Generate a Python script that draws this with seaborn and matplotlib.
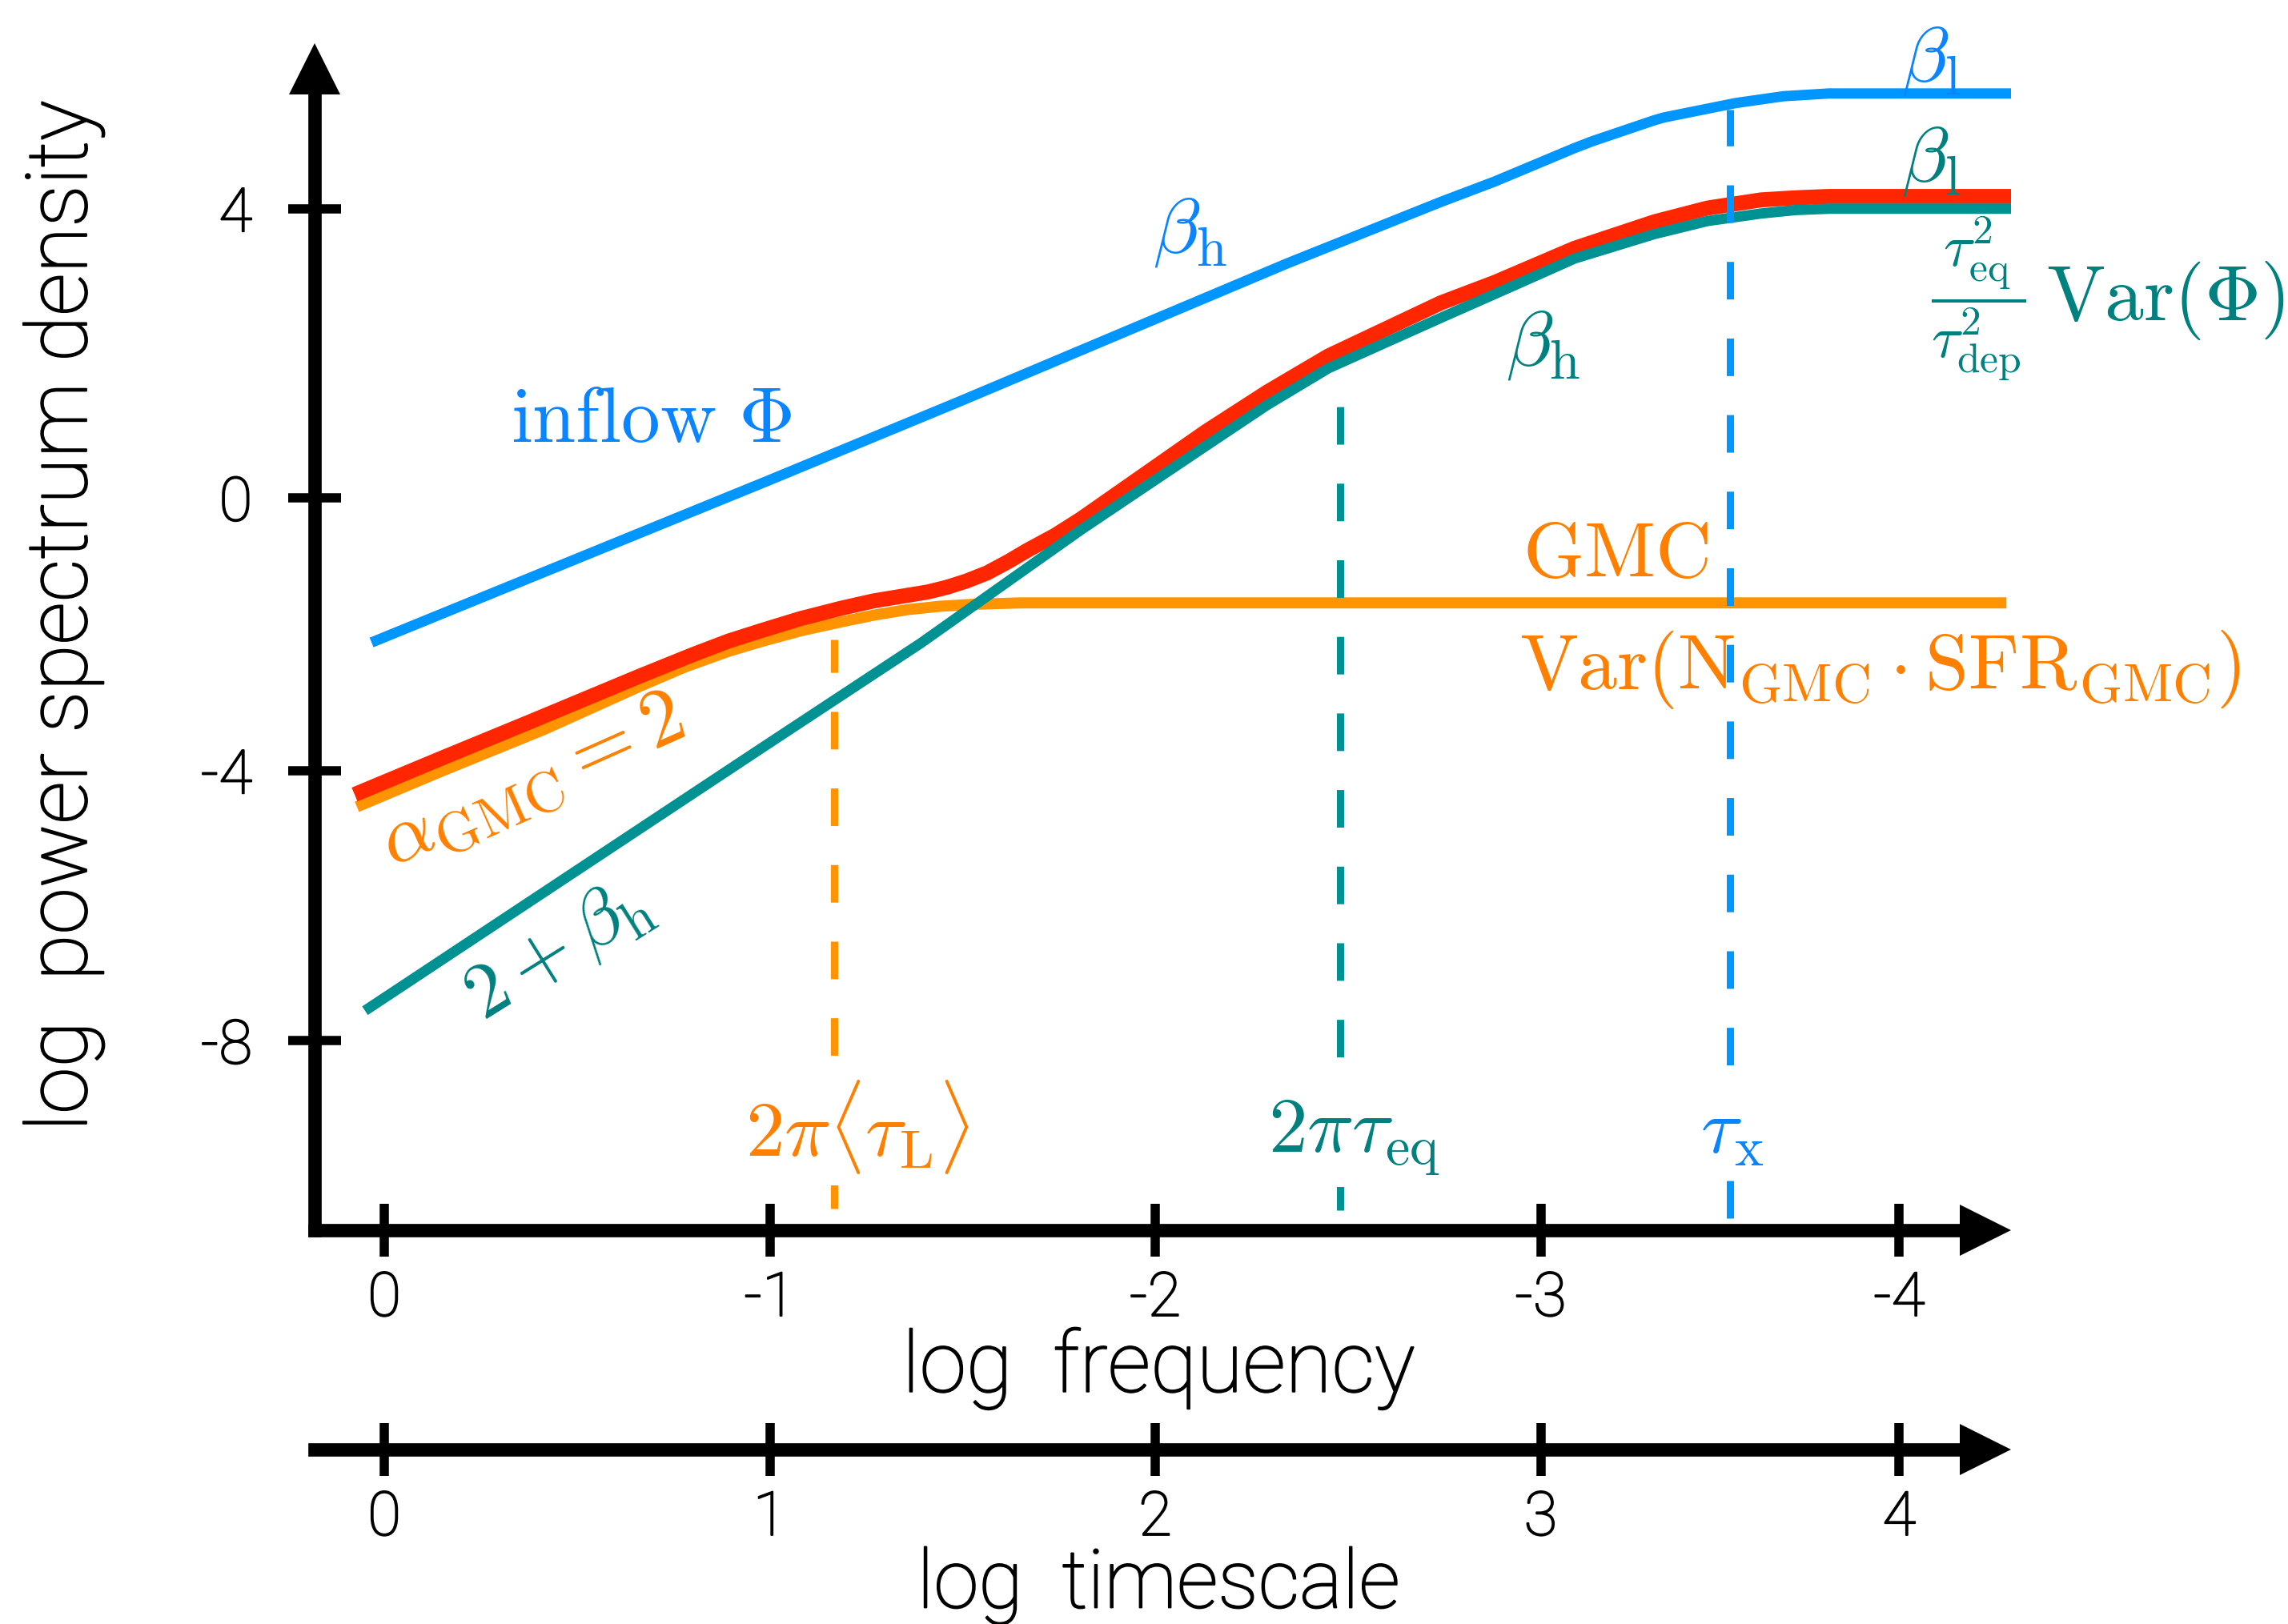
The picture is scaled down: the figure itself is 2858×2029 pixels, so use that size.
import matplotlib
matplotlib.use("Agg")
import matplotlib.pyplot as plt
import matplotlib.transforms as mtransforms
import matplotlib.patheffects as pe
import pandas as pd
import seaborn as sns

# ---------------- data (x = log timescale, y = log power spectrum density) -------------
inflow_x = [-0.033, 0.999, 1.495, 2.343, 2.741, 2.881, 3.088, 3.134, 3.296, 3.321, 3.506,
            3.630, 3.747, 4.255]
inflow_y = [-2.12, 0.26, 1.42, 3.44, 4.34, 4.64, 5.13, 5.23, 5.54, 5.58, 5.79,
            5.89, 5.93, 5.93]

total_x = [-0.077, 0.152, 0.384, 0.660, 0.800, 0.893, 0.976, 1.080, 1.184, 1.270, 1.356,
           1.410, 1.460, 1.510, 1.564, 1.620, 1.668, 1.740, 1.807, 2.131, 2.290, 2.449,
           2.741, 2.881, 3.088, 3.296, 3.433, 3.572, 3.660, 3.747, 4.255]
total_y = [-4.35, -3.81, -3.27, -2.62, -2.30, -2.10, -1.95, -1.77, -1.62, -1.51, -1.43,
           -1.38, -1.31, -1.22, -1.10, -0.93, -0.77, -0.55, -0.31, 0.97, 1.55, 2.08,
           2.86, 3.16, 3.66, 4.05, 4.25, 4.37, 4.40, 4.42, 4.42]

gmc_x = [-0.071, 0.152, 0.417, 0.660, 0.780, 0.893, 0.976, 1.080, 1.184, 1.270, 1.356,
         1.440, 1.531, 1.650, 4.208]
gmc_y = [-4.53, -4.00, -3.39, -2.77, -2.48, -2.25, -2.11, -1.95, -1.82, -1.72, -1.64,
         -1.59, -1.56, -1.54, -1.54]

eq_x = [-0.050, 0.976, 1.392, 1.807, 2.131, 2.290, 2.449, 2.741, 2.949, 3.088, 3.296,
        3.433, 3.572, 3.660, 3.747, 4.258]
eq_y = [-7.52, -3.68, -2.13, -0.47, 0.76, 1.36, 1.90, 2.64, 3.16, 3.51, 3.87,
        4.06, 4.17, 4.22, 4.24, 4.24]

# characteristic timescales (vertical dashed markers) and their vertical extents
tau_L, tau_L_range = 1.167, (-10.42, -2.08)
tau_eq, tau_eq_range = 2.480, (-10.45, 1.37)
tau_x, tau_x_range = 3.491, (-10.56, 5.69)

x_tick_pos = [0.0, 1.0, 2.0, 3.0, 3.93]
freq_labels = ["0", "-1", "-2", "-3", "-4"]
time_labels = ["0", "1", "2", "3", "4"]
y_tick_pos = [4.24, 0.0, -4.0, -7.96]
y_tick_labels = ["4", "0", "-4", "-8"]

# colours
BLUE, RED, ORANGE, TEAL = "#0096FF", "#FF2600", "#FF9300", "#009193"
BLUE_T, ORANGE_T, TEAL_T = "#0A84FF", "#FF8000", "#00807F"

# ---------------- style -------------
sns.set_theme(style="white")
plt.rcParams["font.family"] = ["Roboto", "DejaVu Sans"]
plt.rcParams["mathtext.fontset"] = "cm"
plt.rcParams["axes.unicode_minus"] = False

W, H = 2858, 2029
fig = plt.figure(figsize=(W / 100, H / 100), dpi=100)
fig.patch.set_facecolor("white")

ax_l, ax_r, ax_t, ax_b = 393, 2512, 54, 1537
ax = fig.add_axes([ax_l / W, 1 - ax_b / H, (ax_r - ax_l) / W, (ax_b - ax_t) / H])
ax.set_facecolor("white")
xlim = (-0.1807, 4.220)
ylim = (-10.739, 6.667)
ax.set_xlim(*xlim)
ax.set_ylim(*ylim)

# curves
df_gmc = pd.DataFrame({"x": gmc_x, "y": gmc_y})
df_tot = pd.DataFrame({"x": total_x, "y": total_y})
df_eq = pd.DataFrame({"x": eq_x, "y": eq_y})
df_in = pd.DataFrame({"x": inflow_x, "y": inflow_y})
common = dict(sort=False, estimator=None, ax=ax, legend=False,
              solid_capstyle="butt", solid_joinstyle="round")
sns.lineplot(data=df_gmc, x="x", y="y", color=ORANGE, lw=10, zorder=2, **common)
sns.lineplot(data=df_tot, x="x", y="y", color=RED, lw=13.5, zorder=3, **common)
sns.lineplot(data=df_eq, x="x", y="y", color=TEAL, lw=9.3, zorder=4, **common)
sns.lineplot(data=df_in, x="x", y="y", color=BLUE, lw=9.3, zorder=4, **common)

# dashed timescale markers
for xv, (y0, y1), c in [(tau_L, tau_L_range, ORANGE), (tau_eq, tau_eq_range, TEAL),
                        (tau_x, tau_x_range, BLUE)]:
    ax.vlines(xv, y0, y1, colors=c, lw=6.5, linestyles=(0, (5.2, 5.4)), zorder=5)

# axes styling
for s in ["top", "right"]:
    ax.spines[s].set_visible(False)
for s in ["left", "bottom"]:
    ax.spines[s].set_linewidth(12)
    ax.spines[s].set_color("black")
    ax.spines[s].set_capstyle("projecting")
ax.spines["bottom"].set_bounds(xlim[0], 4.079)
ax.spines["left"].set_bounds(ylim[0], 5.94)

thick = [pe.Stroke(linewidth=1.3, foreground="black"), pe.Normal()]
tick_font = dict(family=["Roboto", "DejaVu Sans"], weight="light", size=55)
ax.set_xticks(x_tick_pos)
ax.set_xticklabels(freq_labels, fontdict=tick_font)
ax.set_yticks(y_tick_pos)
ax.set_yticklabels(y_tick_labels, fontdict=tick_font)
ax.tick_params(axis="both", which="major", direction="inout", length=48, width=8.3,
               color="black", labelcolor="black", bottom=True, left=True,
               top=False, right=False)
ax.tick_params(axis="x", pad=12)
ax.tick_params(axis="y", pad=32)
ax.grid(False)
for lbl in ax.get_xticklabels() + ax.get_yticklabels():
    lbl.set_path_effects(thick)

ms = 45.4
ax.plot([1], [0], marker=">", ms=ms, color="black", mew=0, clip_on=False,
        transform=mtransforms.offset_copy(ax.transAxes, fig, x=-ms / 2, y=0, units="points"))
ax.plot([0], [1], marker="^", ms=ms, color="black", mew=0, clip_on=False,
        transform=mtransforms.offset_copy(ax.transAxes, fig, x=0, y=-ms / 2, units="points"))

lab_kw = dict(fontsize=76, fontweight="light", color="black",
              family=["Roboto", "DejaVu Sans"], path_effects=thick)
ax.set_xlabel("log  frequency", **lab_kw)
ax.set_ylabel("log  power spectrum density", **lab_kw)
ax.xaxis.set_label_coords(1447 / W, 1 - 1658 / H, transform=fig.transFigure)
ax.yaxis.set_label_coords(131 / W, 1 - 770 / H, transform=fig.transFigure)

# second axis: timescale
ax2_y = 1811
ax2 = fig.add_axes([ax_l / W, 1 - ax2_y / H, (ax_r - ax_l) / W, 0.001])
ax2.set_facecolor("none")
ax2.set_xlim(*xlim)
for s in ["top", "right", "left"]:
    ax2.spines[s].set_visible(False)
ax2.spines["bottom"].set_linewidth(12)
ax2.spines["bottom"].set_color("black")
ax2.spines["bottom"].set_capstyle("projecting")
ax2.spines["bottom"].set_bounds(xlim[0], 4.079)
ax2.set_yticks([])
ax2.set_xticks(x_tick_pos)
ax2.set_xticklabels(time_labels, fontdict=tick_font)
ax2.tick_params(axis="x", which="major", direction="inout", length=48, width=8.3,
                color="black", labelcolor="black", pad=12, bottom=True, top=False)
ax2.grid(False)
for lbl in ax2.get_xticklabels():
    lbl.set_path_effects(thick)
ax2.plot([1], [0], marker=">", ms=ms, color="black", mew=0, clip_on=False,
         transform=mtransforms.offset_copy(ax2.transAxes, fig, x=-ms / 2, y=0, units="points"))
lab_kw2 = dict(lab_kw, fontsize=73)
ax2.set_xlabel("log  timescale", **lab_kw2)
ax2.xaxis.set_label_coords(1447 / W, 1 - 1933 / H, transform=fig.transFigure)

# annotations
fs = 70
t = dict(fontsize=fs, clip_on=False, zorder=6)
wbox = dict(facecolor="white", edgecolor="none", pad=9)
ax.text(0.328, 0.82, r"$\mathrm{inflow}\ \Phi$", color=BLUE_T, ha="left", va="baseline", **t)
ax.text(1.994, 3.60, r"$\beta_{\mathrm{h}}$", color=BLUE_T, ha="left", va="baseline", **t)
ax.text(3.936, 6.11, r"$\beta_{\mathrm{l}}$", color=BLUE_T, ha="left", va="baseline", **t)
ax.text(3.936, 4.64, r"$\beta_{\mathrm{l}}$", color=TEAL_T, ha="left", va="baseline", **t)
ax.text(2.910, 1.94, r"$\beta_{\mathrm{h}}$", color=TEAL_T, ha="left", va="baseline", **t)
ax.text(4.135, 2.92, r"$\dfrac{\tau_{\mathrm{eq}}^2}{\tau_{\mathrm{dep}}^2}$",
        color=TEAL_T, ha="center", va="center", fontsize=53, clip_on=False, zorder=6)
ax.text(4.312, 2.61, r"$\mathrm{Var}(\Phi)$", color=TEAL_T, ha="left", va="baseline", **t)
ax.text(2.953, -1.16, r"$\mathrm{GMC}$", color=ORANGE_T, ha="left", va="baseline", **t)
ax.text(2.945, -2.81, r"$\mathrm{Var}(\mathrm{N}_{\mathrm{GMC}}\cdot\mathrm{SFR}_{\mathrm{GMC}})$",
        color=ORANGE_T, ha="left", va="baseline", **t)
ax.text(0.937, -9.65, r"$2\pi\langle\tau_{\mathrm{L}}\rangle$", color=ORANGE_T,
        ha="left", va="baseline", bbox=wbox, **t)
ax.text(2.293, -9.59, r"$2\pi\tau_{\mathrm{eq}}$", color=TEAL_T, ha="left", va="baseline",
        bbox=wbox, **t)
ax.text(3.414, -9.61, r"$\tau_{\mathrm{x}}$", color=BLUE_T, ha="left", va="baseline",
        bbox=wbox, **t)
ax.text(0.384, -4.17, r"$\alpha_{\mathrm{GMC}}=2$", color=ORANGE_T, ha="center", va="center",
        rotation=24, rotation_mode="anchor", fontsize=73, clip_on=False, zorder=6)
ax.text(0.449, -6.63, r"$2+\beta_{\mathrm{h}}$", color=TEAL_T, ha="center", va="center",
        rotation=32, rotation_mode="anchor", **t)

fig.savefig("out.png", dpi=100, facecolor="white")
